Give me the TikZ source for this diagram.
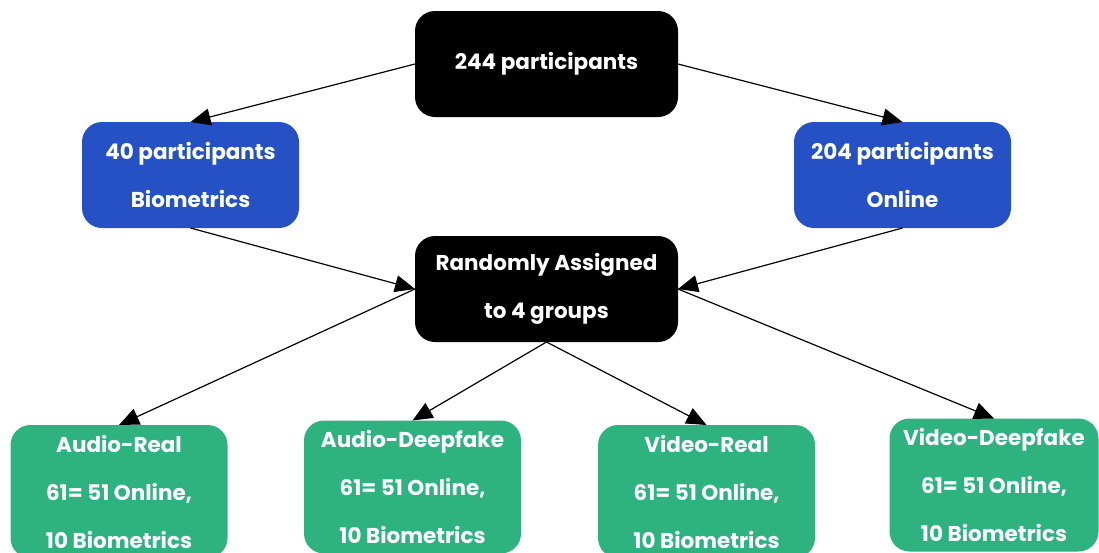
\documentclass[tikz,border=0pt]{standalone}
\usepackage{fontspec}
\setmainfont{Poppins}
\usepackage{tikz}
\usepackage{xcolor}
\usetikzlibrary{arrows.meta, positioning}
\definecolor{cBlue}{RGB}{37,81,196}
\definecolor{cGreen}{RGB}{46,178,128}
\newcommand{\boxfont}{\fontsize{21.5pt}{48pt}\selectfont\bfseries}
\tikzset{
    darkbox/.style ={rectangle, rounded corners=20pt, minimum width=263pt, minimum height=106pt, align=center, fill=black, text=white, font=\boxfont, outer sep=0pt},
    bluebox/.style ={rectangle, rounded corners=20pt, minimum width=217pt, minimum height=106pt, align=center, fill=cBlue, text=white, font=\boxfont, outer sep=0pt},
    greenbox/.style={rectangle, rounded corners=20pt, minimum width=217pt, minimum height=133pt, align=center, fill=cGreen, text=white, font=\boxfont, outer sep=0pt},
    flowarrow/.style={-{Triangle[length=20pt, width=17pt]}, line width=1.2pt},
}

\begin{document}
\begin{tikzpicture}[x=1pt, y=-1pt]
    \useasboundingbox (0,0) rectangle (1099,552);
    \node[darkbox] (all) at (546.5,64) {244 participants};
    \node[bluebox, below left=5pt and 116pt of all] (bio) {40 participants\\Biometrics};
    \node[bluebox, below right=5pt and 116pt of all] (online) {204 participants\\Online};
    \node[darkbox, below=119pt of all] (rand) {Randomly Assigned\\to 4 groups};
    \node[greenbox] (ar) at (119,491.5) {Audio-Real\\61= 51 Online,\\10 Biometrics};
    \node[greenbox] (ad) at (412.5,487) {Audio-Deepfake\\61= 51 Online,\\10 Biometrics};
    \node[greenbox] (vr) at (706.5,491.5) {Video-Real\\61= 51 Online,\\10 Biometrics};
    \node[greenbox, minimum width=209pt] (vd) at (994,485) {Video-Deepfake\\61= 51 Online,\\10 Biometrics};
    \draw[flowarrow] (all.west) -- (bio.north);
    \draw[flowarrow] (all.east) -- (online.north);
    \draw[flowarrow] (bio.south) -- (rand.west);
    \draw[flowarrow] (online.south) -- (rand.east);
    \draw[flowarrow] (rand.west) -- (ar.north);
    \draw[flowarrow] (rand.south) -- (ad.north);
    \draw[flowarrow] (rand.south) -- (vr.north);
    \draw[flowarrow] (rand.east) -- (vd.north);
\end{tikzpicture}
\end{document}
